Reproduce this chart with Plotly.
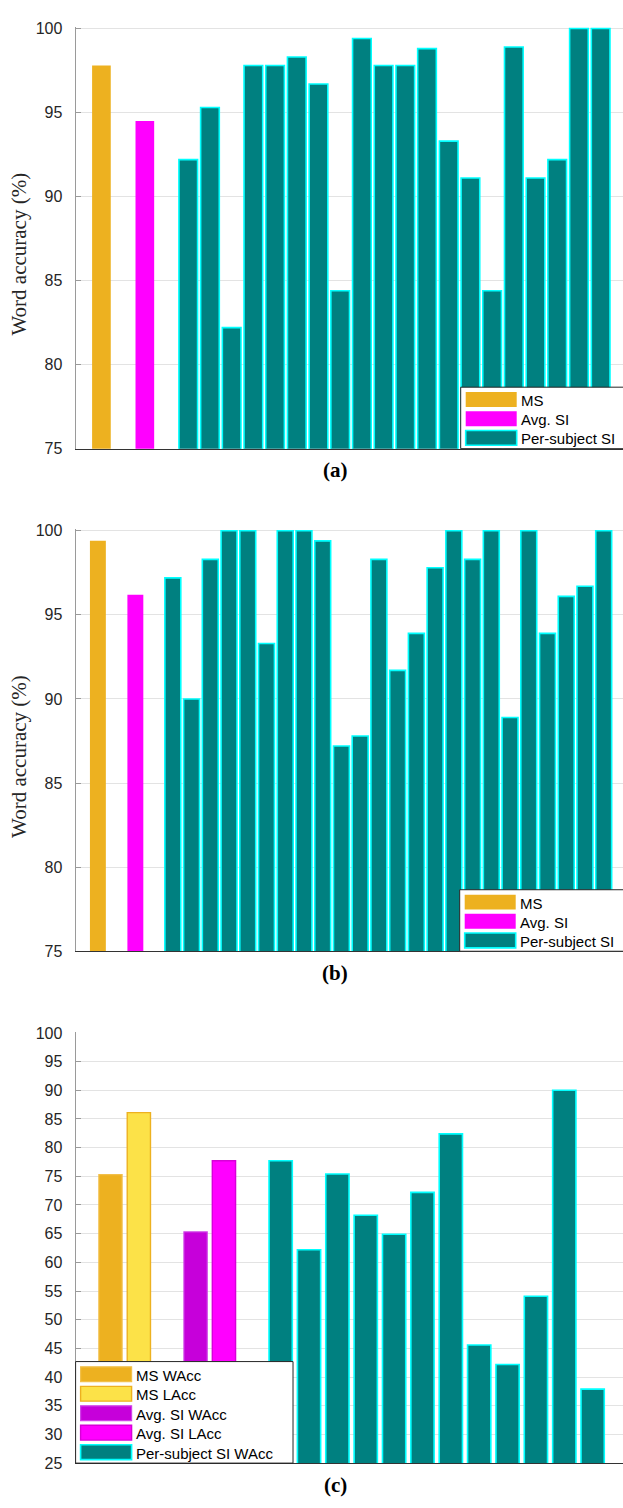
import plotly.graph_objects as go

# ---------------- data ----------------
a_names = ["MS", "Avg. SI", "Per-subject SI"]
a_ms = [97.8]
a_avg = [94.5]
a_subj = [92.2, 95.3, 82.2, 97.8, 97.8, 98.3, 96.7, 84.4, 99.4, 97.8,
          97.8, 98.8, 93.3, 91.1, 84.4, 98.9, 91.1, 92.2, 100.0, 100.0]

b_names = ["MS", "Avg. SI", "Per-subject SI"]
b_ms = [99.4]
b_avg = [96.2]
b_subj = [97.2, 90.0, 98.3, 100.0, 100.0, 93.3, 100.0, 100.0, 99.4, 87.2,
          87.8, 98.3, 91.7, 93.9, 97.8, 100.0, 98.3, 100.0, 88.9, 100.0,
          93.9, 96.1, 96.7, 100.0]

c_names = ["MS WAcc", "MS LAcc", "Avg. SI WAcc", "Avg. SI LAcc", "Per-subject SI WAcc"]
c_ms_wacc = [75.3]
c_ms_lacc = [86.1]
c_avg_wacc = [65.3]
c_avg_lacc = [77.7]
c_subj = [77.7, 62.2, 75.4, 68.2, 64.9, 72.2, 82.4, 45.6, 42.2, 54.1, 90.0, 37.9]

captions = ["(a)", "(b)", "(c)"]
y_title = "Word accuracy (%)"

# ---------------- styling ----------------
W, H = 623, 1508
ORANGE, YELLOW = "#EDB120", "#FCE248"
PURPLE, MAGENTA = "#C600DA", "#FF00FF"
TEAL, CYAN = "#008080", "#00FFFF"
SANS = "Liberation Sans, Arial, Helvetica, sans-serif"
SERIF = "Liberation Serif, Times New Roman, serif"
TXT = "#262626"


def px(x):
    return x / W


def py(y):
    return 1 - y / H


fig = go.Figure()

# panel geometry (pixels)
panels = [
    dict(top=19, bottom=445.7, xr=[-0.19, 25.03], yr=[75, 100.1], dt=5, title=True,
         cap_y=469),
    dict(top=527, bottom=954, xr=[-0.19, 29.03], yr=[75, 100.1], dt=5, title=True,
         cap_y=978),
    dict(top=1036, bottom=1471.7, xr=[-0.23, 19.07], yr=[25, 100.1], dt=5, title=False,
         cap_y=1496),
]
X0 = 75.6


def add_series(ax, xs, ys, name, fill, edge, lw, width):
    fig.add_trace(go.Bar(
        x=xs, y=ys, name=name, width=width,
        marker=dict(color=fill, line=dict(color=edge, width=lw)),
        xaxis="x" + ax, yaxis="y" + ax, showlegend=False,
    ))


# Panel (a)
series_a = [
    (a_names[0], [1], a_ms, ORANGE, ORANGE, 0),
    (a_names[1], [3], a_avg, MAGENTA, MAGENTA, 0),
    (a_names[2], list(range(5, 5 + len(a_subj))), a_subj, TEAL, CYAN, 1.6),
]
for n, xs, ys, f, e, lw in series_a:
    add_series("", xs, ys, n, f, e, lw, 0.86)

# Panel (b)
series_b = [
    (b_names[0], [1], b_ms, ORANGE, ORANGE, 0),
    (b_names[1], [3], b_avg, MAGENTA, MAGENTA, 0),
    (b_names[2], list(range(5, 5 + len(b_subj))), b_subj, TEAL, CYAN, 1.6),
]
for n, xs, ys, f, e, lw in series_b:
    add_series("2", xs, ys, n, f, e, lw, 0.85)

# Panel (c)
series_c = [
    (c_names[0], [1], c_ms_wacc, ORANGE, "#F2C04A", 1.2),
    (c_names[1], [2], c_ms_lacc, YELLOW, ORANGE, 1.4),
    (c_names[2], [4], c_avg_wacc, PURPLE, "#D040E8", 1.2),
    (c_names[3], [5], c_avg_lacc, MAGENTA, "#D800D8", 1.4),
    (c_names[4], list(range(7, 7 + len(c_subj))), c_subj, TEAL, CYAN, 1.6),
]
for n, xs, ys, f, e, lw in series_c:
    add_series("3", xs, ys, n, f, e, lw, 0.82)

layout = dict(
    width=W, height=H, margin=dict(l=0, r=0, t=0, b=0),
    paper_bgcolor="white", plot_bgcolor="white", barmode="overlay",
    showlegend=False,
)

shapes, annotations = [], []
for i, p in enumerate(panels):
    sfx = "" if i == 0 else str(i + 1)
    layout["xaxis" + sfx] = dict(
        domain=[px(X0), 1], range=p["xr"], showticklabels=False, ticks="",
        showgrid=False, zeroline=False, showline=True, linecolor="#333333",
        linewidth=1, anchor="y" + sfx, fixedrange=True,
    )
    layout["yaxis" + sfx] = dict(
        domain=[py(p["bottom"]), py(p["top"])], range=p["yr"], dtick=p["dt"],
        tick0=0, ticks="inside", ticklen=5, tickcolor="#9a9a9a",
        showgrid=True, gridcolor="#E3E3E3", gridwidth=1, zeroline=False,
        showline=True, linecolor="#9a9a9a", linewidth=1,
        tickfont=dict(family=SANS, size=16, color=TXT),
        ticklabelstandoff=9, anchor="x" + sfx, fixedrange=True,
    )
    if p["title"]:
        annotations.append(dict(
            xref="paper", yref="paper", x=px(19), y=py((p["top"] + p["bottom"]) / 2 + 17),
            text=y_title, textangle=-90, showarrow=False,
            font=dict(family=SERIF, size=21, color=TXT), xanchor="center", yanchor="middle",
        ))
    annotations.append(dict(
        xref="paper", yref="paper", x=px(335), y=py(p["cap_y"] - 2),
        text="<b>" + captions[i] + "</b>", showarrow=False,
        font=dict(family=SERIF, size=21, color="black"), xanchor="center", yanchor="middle",
    ))


def draw_legend(entries, left, right, bottom, row_h, pad_top):
    n = len(entries)
    top = bottom - pad_top - n * row_h
    shapes.append(dict(type="rect", xref="paper", yref="paper", layer="above",
                       x0=px(left), x1=px(right), y0=py(bottom), y1=py(top),
                       fillcolor="white", line=dict(color=TXT, width=1)))
    for k, (name, fill, edge, lw) in enumerate(entries):
        cy = top + pad_top + row_h * (k + 0.5) - 1.2
        shapes.append(dict(type="rect", xref="paper", yref="paper", layer="above",
                           x0=px(left + 5), x1=px(left + 56),
                           y0=py(cy + 7.5), y1=py(cy - 7.5),
                           fillcolor=fill,
                           line=dict(color=edge, width=lw if lw else 0)))
        annotations.append(dict(xref="paper", yref="paper", x=px(left + 58), y=py(cy + 1),
                                text=name, showarrow=False, xanchor="left", yanchor="middle",
                                font=dict(family=SANS, size=15, color="black")))


draw_legend([(s[0], s[3], s[4], s[5]) for s in series_a], 460.7, 640, 445.7, 19.4, 4)
draw_legend([(s[0], s[3], s[4], s[5]) for s in series_b], 459.7, 640, 954, 19.4, 4)
draw_legend([(s[0], s[3], s[4], s[5]) for s in series_c], X0, 293, 1471.7, 19.7, 4.2)

layout["shapes"] = shapes
layout["annotations"] = annotations
fig.update_layout(**layout)
fig.write_html("out.html", config={"displayModeBar": False})
